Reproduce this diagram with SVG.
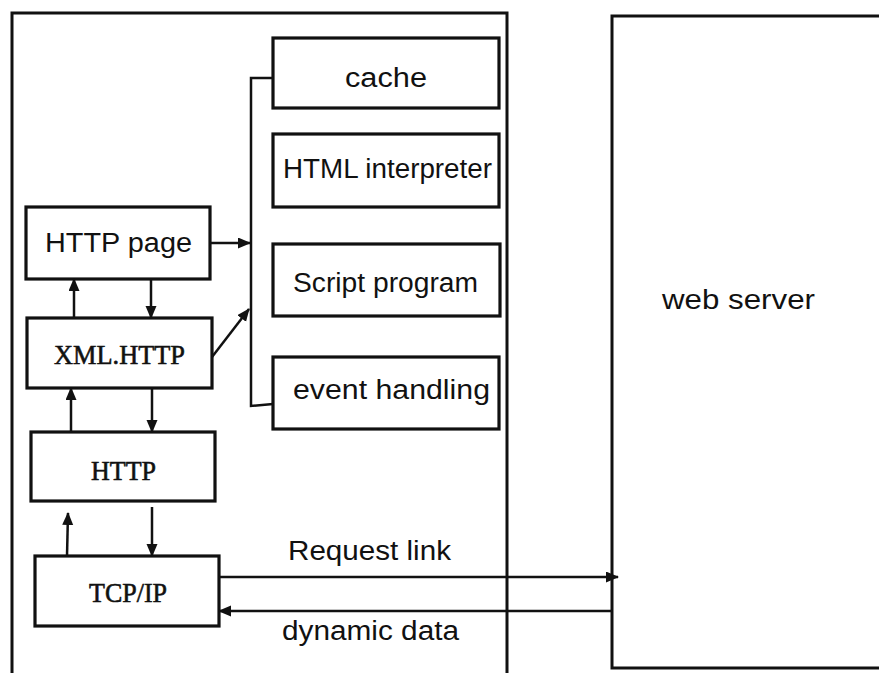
<svg xmlns="http://www.w3.org/2000/svg" width="879" height="673" viewBox="0 0 879 673">
<style>
.box{fill:#fff;stroke:#111;stroke-width:3.2}
.frame{fill:none;stroke:#111;stroke-width:3}
.ln{fill:none;stroke:#111;stroke-width:2.5}
.sans{font-family:"Liberation Sans",Arial,sans-serif;font-size:27px;fill:#111}
.serif{font-family:"Liberation Serif","Times New Roman",serif;font-size:28px;fill:#111;stroke:#111;stroke-width:0.6}
</style>
<defs>
<marker id="ah" markerUnits="userSpaceOnUse" markerWidth="14" markerHeight="12" refX="12" refY="5.5" orient="auto">
<path d="M0,0 L13,5.5 L0,11 Z" fill="#111"/>
</marker>
</defs>
<rect width="879" height="673" fill="#fff"/>
<g id="client">
<path class="frame" d="M12,680 L12,13 L507,13 L507,680"/>
</g>
<g id="webserver">
<path class="frame" d="M890,16 L612,16 L612,668 L890,668"/>
<text class="sans" x="662" y="309" textLength="153" lengthAdjust="spacingAndGlyphs">web server</text>
</g>
<g id="cache">
<rect class="box" x="273" y="38" width="226" height="70"/>
<text class="sans" x="386" y="87" text-anchor="middle" textLength="82" lengthAdjust="spacingAndGlyphs">cache</text>
</g>
<g id="html-interpreter">
<rect class="box" x="273" y="134" width="226" height="73"/>
<text class="sans" x="283" y="178" textLength="209" lengthAdjust="spacingAndGlyphs">HTML interpreter</text>
</g>
<g id="script-program">
<rect class="box" x="273" y="244" width="227" height="72"/>
<text class="sans" x="293" y="292" textLength="185" lengthAdjust="spacingAndGlyphs">Script program</text>
</g>
<g id="event-handling">
<rect class="box" x="273" y="357" width="226" height="72"/>
<text class="sans" x="293" y="399" textLength="197" lengthAdjust="spacingAndGlyphs">event handling</text>
</g>
<g id="http-page">
<rect class="box" x="26" y="207" width="184" height="72"/>
<text class="sans" x="45" y="252" textLength="147" lengthAdjust="spacingAndGlyphs">HTTP page</text>
</g>
<g id="xml-http">
<rect class="box" x="27" y="318" width="185" height="70"/>
<text class="serif" x="54" y="364" textLength="131" lengthAdjust="spacingAndGlyphs">XML.HTTP</text>
</g>
<g id="http">
<rect class="box" x="31" y="432" width="184" height="69"/>
<text class="serif" x="91" y="480" textLength="65" lengthAdjust="spacingAndGlyphs">HTTP</text>
</g>
<g id="tcp-ip">
<rect class="box" x="35" y="556" width="184" height="70"/>
<text class="serif" x="89" y="602" textLength="78" lengthAdjust="spacingAndGlyphs">TCP/IP</text>
</g>
<g id="connectors">
<path class="ln" d="M273,78 L251,78 L251,406 L273,404"/>
<line class="ln" x1="210" y1="243" x2="250" y2="243" marker-end="url(#ah)"/>
<line class="ln" x1="212" y1="357" x2="249" y2="309" marker-end="url(#ah)"/>
<line class="ln" x1="74" y1="318" x2="74" y2="279" marker-end="url(#ah)"/>
<line class="ln" x1="151" y1="279" x2="151" y2="318" marker-end="url(#ah)"/>
<line class="ln" x1="71" y1="432" x2="71" y2="388" marker-end="url(#ah)"/>
<line class="ln" x1="152" y1="388" x2="152" y2="432" marker-end="url(#ah)"/>
<line class="ln" x1="67" y1="556" x2="68" y2="513" marker-end="url(#ah)"/>
<line class="ln" x1="152" y1="507" x2="152" y2="556" marker-end="url(#ah)"/>
<line class="ln" x1="219" y1="577" x2="618" y2="577" marker-end="url(#ah)"/>
<line class="ln" x1="612" y1="611" x2="219" y2="611" marker-end="url(#ah)"/>
<text class="sans" x="288" y="560" textLength="163" lengthAdjust="spacingAndGlyphs">Request link</text>
<text class="sans" x="282" y="640" textLength="177" lengthAdjust="spacingAndGlyphs">dynamic data</text>
</g>
</svg>
